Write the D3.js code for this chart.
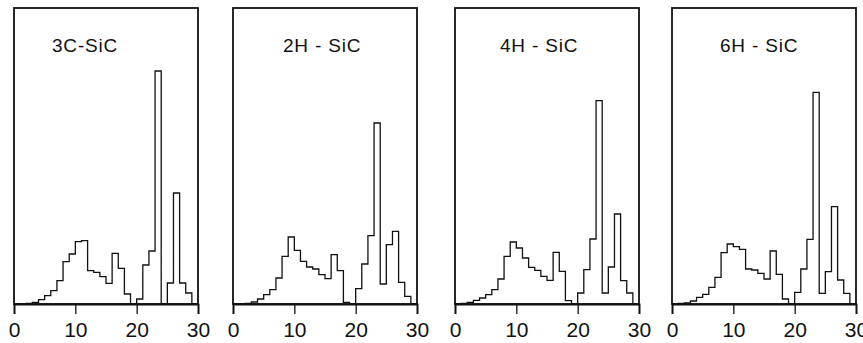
<!DOCTYPE html>
<html>
<head>
<meta charset="utf-8">
<script src="https://cdn.jsdelivr.net/npm/d3@7"></script>
<style>
  body { margin: 0; background: #fff; }
  svg { display: block; font-family: Arial, "Liberation Sans", sans-serif; }
</style>
</head>
<body>
<div id="chart"></div>
<script>
// bin start positions (bins are 1 unit wide, 0..30)
const bins = [0,1,2,3,4,5,6,7,8,9,10,11,12,13,14,15,16,17,18,19,20,21,22,23,24,25,26,27,28,29];

const panelNames = ["3C-SiC", "2H - SiC", "4H - SiC", "6H - SiC"];

// heights (arbitrary units, frame top = 296)
const sic3C = [0,0,0.5,1.7,4.3,8.3,13.3,23.3,42.3,50,62.3,63.3,33.3,31.7,27.3,20.7,50.7,35.7,10,0,5,39,53,233,0,21,111,21,11,0];
const sic2H = [0,0.3,0.7,2,5,9.3,14.3,26,47.7,67,53.7,42.7,37,35,29.3,25.3,49.3,33.3,1.7,0,15.3,40,68.3,181,20,59.3,72.7,21.7,7.7,0];
const sic4H = [0.3,0.5,1.7,3.7,6,9.3,14.3,25,47.7,62,56,46,36.7,33.7,27.7,23.7,51.7,32.7,3.3,0,11,34.3,65,203.3,11,37,90,23.3,11,0];
const sic6H = [0.3,0.5,1,3,6.7,9.7,16.7,26.7,51.3,60,57.3,54.7,35,34,30.7,25,53,29.7,5,0,11.7,35,64.7,211.7,10.7,32.3,97.3,24,10.7,0];

const series = [sic3C, sic2H, sic4H, sic6H];

const xTicks = [0, 10, 20, 30];

// layout
const W = 863, H = 343;
const panelLeft = [14, 233, 455, 672];
const panelW = 184;
const plotTop = 8, plotBottom = 304;
const labelDx = [38, 50, 45, 48];

const svg = d3.select("#chart").append("svg")
    .attr("width", W)
    .attr("height", H);

const y = d3.scaleLinear().domain([0, 296]).range([plotBottom, plotTop]);

series.forEach(function(vals, p) {
    const x = d3.scaleLinear().domain([0, 30]).range([0, panelW]);
    const g = svg.append("g").attr("transform", "translate(" + panelLeft[p] + ",0)");

    // frame
    g.append("rect")
        .attr("x", x(0))
        .attr("y", plotTop)
        .attr("width", x(30) - x(0))
        .attr("height", plotBottom - plotTop)
        .attr("fill", "none")
        .attr("stroke", "#111")
        .attr("stroke-width", 1.8);

    // bottom axis
    const axis = g.append("g")
        .attr("transform", "translate(0," + plotBottom + ")")
        .call(d3.axisBottom(x).tickValues(xTicks).tickSize(10).tickPadding(8).tickFormat(d3.format("d")));
    axis.select(".domain").attr("stroke", "#111").attr("stroke-width", 1.8);
    axis.selectAll(".tick line").attr("stroke", "#111").attr("stroke-width", 1.3);
    axis.selectAll(".tick text")
        .attr("fill", "#111")
        .style("font-size", "21px")
        .style("font-family", "Arial, 'Liberation Sans', sans-serif");

    // step histogram
    const pts = [[0, 0]].concat(bins.map(function(b, i) { return [b, vals[i]]; }));
    pts.push([30, vals[vals.length - 1]]);
    pts.push([30, 0]);

    const line = d3.line()
        .x(function(d) { return x(d[0]); })
        .y(function(d) { return y(d[1]); })
        .curve(d3.curveStepAfter);

    g.append("path")
        .datum(pts)
        .attr("d", line)
        .attr("fill", "none")
        .attr("stroke", "#111")
        .attr("stroke-width", 1.3);

    // panel label
    g.append("text")
        .attr("x", labelDx[p])
        .attr("y", 52)
        .text(panelNames[p])
        .style("font-size", "19px")
        .style("letter-spacing", "0.8px")
        .attr("fill", "#111");
});
</script>
</body>
</html>
